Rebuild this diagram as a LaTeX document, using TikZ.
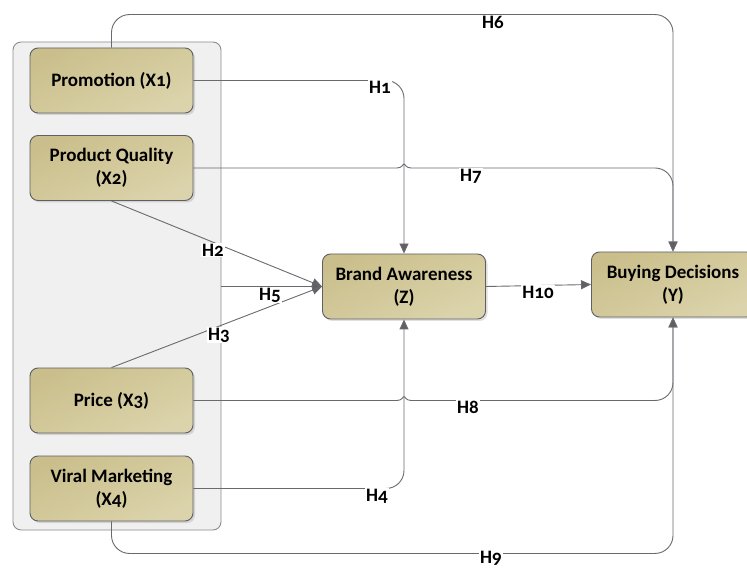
\documentclass[tikz,border=0pt]{standalone}
\usepackage{fontspec}
\setmainfont{Carlito}[Numbers=OldStyle]
\usetikzlibrary{arrows.meta,shadows,calc}

\definecolor{boxtop}{RGB}{202,191,140}
\definecolor{boxbot}{RGB}{219,211,171}
\definecolor{boxline}{RGB}{95,95,100}
\definecolor{wire}{RGB}{105,105,112}
\definecolor{panel}{RGB}{240,240,240}

\begin{document}
\begin{tikzpicture}[x=1pt,y=-1pt,
  var/.style={draw=boxline, line width=0.9pt, rounded corners=8pt,
    top color=boxtop, bottom color=boxbot, shading angle=25,
    minimum width=163pt, minimum height=65pt, align=center,
    font=\bfseries\fontsize{19}{23}\selectfont,
    drop shadow={shadow xshift=2pt, shadow yshift=-2pt, opacity=0.25}},
  group/.style={draw=gray!90, line width=0.9pt, rounded corners=8pt,
    fill=panel, minimum width=208pt, minimum height=488pt},
  link/.style={draw=wire, line width=0.9pt,
    -{Triangle[length=10pt,width=9pt,fill=boxline]}},
  hyp/.style={fill=white, inner sep=1pt,
    font=\bfseries\fontsize{19}{20}\selectfont}]

  \useasboundingbox (0,0) rectangle (747,569);

  % predictors
  \node[group] (grp) at (117,286) {};
  \node[var] (x1) at (111.5,80.5) {Promotion (X1)};
  \node[var] (x2) at (111.5,168) {Product Quality\\(X2)};
  \node[var] (x3) at (111.5,400.5) {Price (X3)};
  \node[var] (x4) at (111.5,488.5) {Viral Marketing\\(X4)};

  % mediator and outcome
  \node[var] (z) at (404,286.5) {Brand Awareness\\(Z)};
  \node[var] (y) at (673,284.5) {Buying Decisions\\(Y)};

  % hop points where two wires cross
  \coordinate (hop7) at (z.north |- x2.east);
  \coordinate (hop8) at (z.south |- x3.east);

  % direct paths
  \draw[link, rounded corners=18pt] (x1.north) -- ++(0,-33) -| (y.north);
  \draw[link, rounded corners=18pt] (x1.east) -| (z.north);
  \draw[link] (x2.east) -- ($(hop7)+(-7,0)$)
    .. controls ($(hop7)+(-2,0)$) and ($(hop7)+(-1,-4)$) .. ($(hop7)+(0,-4)$)
    .. controls ($(hop7)+(1,-4)$) and ($(hop7)+(2,0)$) .. ($(hop7)+(7,0)$)
    [rounded corners=18pt] -| (y.north);
  \draw[link] (x2.south) -- (z.west);
  \draw[link] (x3.north) -- (z.west);
  \draw[link] (grp.east |- z.west) -- (z.west);
  \draw[link] (x3.east) -- ($(hop8)+(-7,0)$)
    .. controls ($(hop8)+(-2,0)$) and ($(hop8)+(-1,-4)$) .. ($(hop8)+(0,-4)$)
    .. controls ($(hop8)+(1,-4)$) and ($(hop8)+(2,0)$) .. ($(hop8)+(7,0)$)
    [rounded corners=18pt] -| (y.south);
  \draw[link, rounded corners=18pt] (x4.east) -| (z.south);
  \draw[link, rounded corners=18pt] (x4.south) -- ++(0,32) -| (y.south);
  \draw[link] (z.east) -- (y.west);

  % hypothesis labels
  \node[hyp] (h1) at (380,87) {H1};
  \node[hyp] (h2) at (213,250) {H2};
  \node[hyp] (h3) at (219,335) {H3};
  \node[hyp] (h4) at (377,496) {H4};
  \node[hyp] (h5) at (270,295) {H5};
  \node[hyp] (h6) at (493,22) {H6};
  \node[hyp] (h7) at (471,176) {H7};
  \node[hyp] (h8) at (468,407) {H8};
  \node[hyp] (h9) at (491,558) {H9};
  \node[hyp] (h10) at (538,292) {H10};
\end{tikzpicture}
\end{document}
